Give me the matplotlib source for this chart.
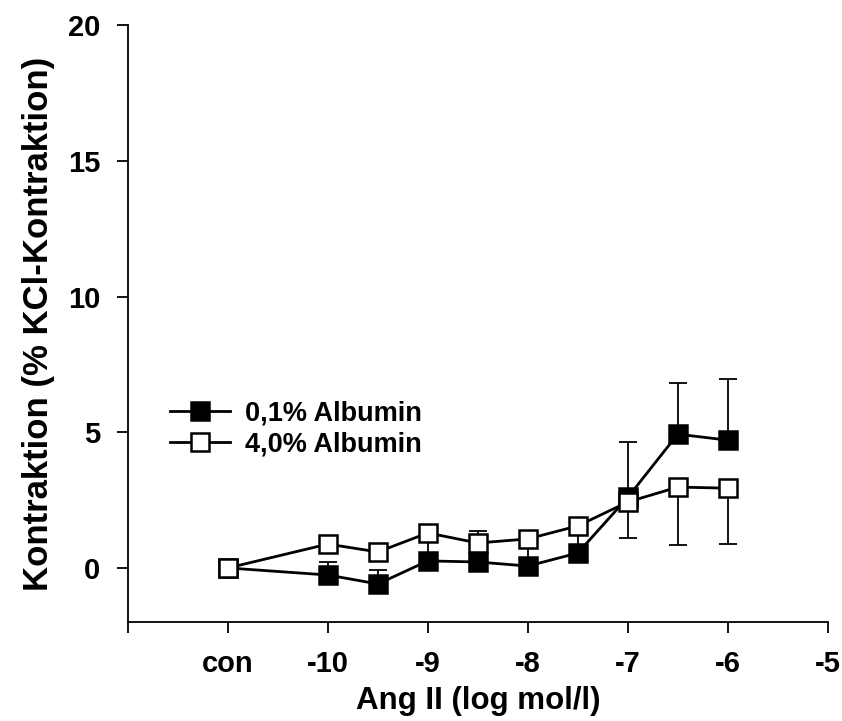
import matplotlib
matplotlib.use("Agg")
import matplotlib.pyplot as plt
import numpy as np

plt.rcParams['font.family'] = ['Liberation Sans', 'DejaVu Sans']
plt.rcParams['font.weight'] = 'bold'

# x positions (log mol/l); "con" plotted at -11
x_pos = [-11, -10, -9.5, -9, -8.5, -8, -7.5, -7, -6.5, -6]

# 0,1% Albumin (filled) - mean and upper SEM
alb01_mean = [0.0, -0.26, -0.59, 0.26, 0.22, 0.07, 0.55, 2.60, 4.93, 4.71]
alb01_err = [0.0, 0.48, 0.52, 0.95, 1.14, 0.95, 0.95, 2.03, 1.87, 2.27]

# 4,0% Albumin (open) - mean and lower SEM
alb40_mean = [0.0, 0.88, 0.59, 1.29, 0.92, 1.07, 1.55, 2.43, 2.98, 2.94]
alb40_err = [0.0, 0.33, 0.33, 0.15, 0.15, 0.15, 0.15, 1.33, 2.13, 2.06]

xticks = [-11, -10, -9, -8, -7, -6, -5]
xticklabels = ['con', '-10', '-9', '-8', '-7', '-6', '-5']
yticks = [0, 5, 10, 15, 20]

fig = plt.figure(figsize=(8.42, 7.21), dpi=100)
ax = fig.add_axes([0.152, 0.137, 0.831, 0.828])

fs_tick = 21
fs_leg = 19.5

# error bars
ax.errorbar(x_pos, alb01_mean, yerr=[np.zeros(len(alb01_err)), alb01_err],
            fmt='none', ecolor='black', elinewidth=1.3, capsize=6.5, capthick=1.3, zorder=2)
ax.errorbar(x_pos, alb40_mean, yerr=[alb40_err, np.zeros(len(alb40_err))],
            fmt='none', ecolor='black', elinewidth=1.3, capsize=6.5, capthick=1.3, zorder=2)

l1, = ax.plot(x_pos, alb01_mean, '-', color='black', lw=2.0, marker='s', ms=13,
              mfc='black', mec='black', mew=1.8, zorder=3, label='0,1% Albumin')
l2, = ax.plot(x_pos, alb40_mean, '-', color='black', lw=2.0, marker='s', ms=13,
              mfc='white', mec='black', mew=1.8, zorder=4, label='4,0% Albumin')

ax.set_xlim(-12, -5)
ax.set_ylim(-2, 20)
ax.set_xticks([-12] + xticks)
ax.set_xticklabels([''] + xticklabels)
ax.set_yticks(yticks)
ax.tick_params(axis='both', direction='out', length=8, width=1.3, labelsize=fs_tick, pad=12)
for lab in ax.get_xticklabels() + ax.get_yticklabels():
    lab.set_fontweight('bold')

ax.spines['top'].set_visible(False)
ax.spines['right'].set_visible(False)
ax.spines['left'].set_linewidth(1.3)
ax.spines['bottom'].set_linewidth(1.3)

ax.set_xlabel('Ang II (log mol/l)', fontsize=22.5, fontweight='bold', labelpad=6)
ax.set_ylabel('Kontraktion (% KCl-Kontraktion)', fontsize=25, fontweight='bold', labelpad=9)

leg = ax.legend(handles=[l1, l2], loc='upper left', bbox_to_anchor=(0.045, 0.39),
                frameon=False, prop={'weight': 'bold', 'size': fs_leg},
                handlelength=2.2, handletextpad=0.55, labelspacing=0.2, borderaxespad=0)

fig.savefig('out.png', dpi=100)
